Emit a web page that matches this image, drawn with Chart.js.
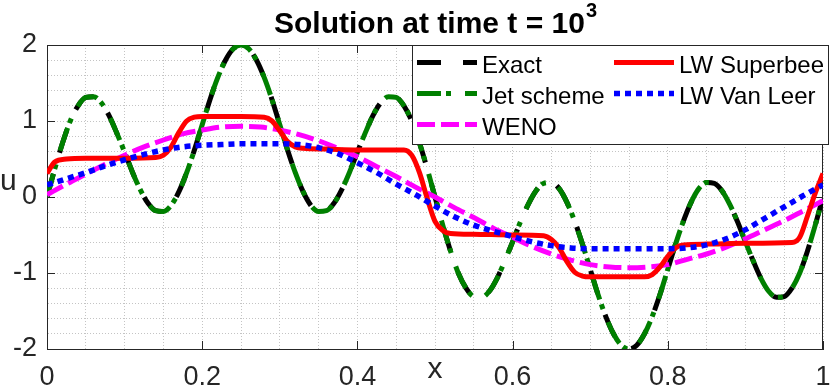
<!DOCTYPE html>
<html>
<head>
<meta charset="utf-8">
<title>Solution at time t = 10^3</title>
<script src="https://cdn.jsdelivr.net/npm/chart.js@4.4.0/dist/chart.umd.min.js"></script>
<style>
  html, body { margin: 0; padding: 0; background: #fff; }
</style>
</head>
<body>
<canvas id="chart" width="830" height="386"></canvas>
<script>
// ---- data ----
const xTickLabels = ['0', '0.2', '0.4', '0.6', '0.8', '1'];
const yTickLabels = ['-2', '-1', '0', '1', '2'];

// fine grid for the exact solution and the jet scheme
const xFine = [
  0, 0.01, 0.02, 0.03, 0.04, 0.05, 0.06, 0.07, 0.08, 0.09,
  0.1, 0.11, 0.12, 0.13, 0.14, 0.15, 0.16, 0.17, 0.18, 0.19,
  0.2, 0.21, 0.22, 0.23, 0.24, 0.25, 0.26, 0.27, 0.28, 0.29,
  0.3, 0.31, 0.32, 0.33, 0.34, 0.35, 0.36, 0.37, 0.38, 0.39,
  0.4, 0.41, 0.42, 0.43, 0.44, 0.45, 0.46, 0.47, 0.48, 0.49,
  0.5, 0.51, 0.52, 0.53, 0.54, 0.55, 0.56, 0.57, 0.58, 0.59,
  0.6, 0.61, 0.62, 0.63, 0.64, 0.65, 0.66, 0.67, 0.68, 0.69,
  0.7, 0.71, 0.72, 0.73, 0.74, 0.75, 0.76, 0.77, 0.78, 0.79,
  0.8, 0.81, 0.82, 0.83, 0.84, 0.85, 0.86, 0.87, 0.88, 0.89,
  0.9, 0.91, 0.92, 0.93, 0.94, 0.95, 0.96, 0.97, 0.98, 0.99,
  1
];
const exactU = [
  0, 0.37, 0.71, 1.00, 1.20, 1.31, 1.32, 1.24, 1.07, 0.84,
  0.59, 0.33, 0.10, -0.08, -0.18, -0.19, -0.11, 0.07, 0.32, 0.62,
  0.95, 1.28, 1.57, 1.80, 1.95, 2.00, 1.95, 1.80, 1.57, 1.28,
  0.95, 0.62, 0.32, 0.07, -0.11, -0.19, -0.18, -0.08, 0.10, 0.33,
  0.59, 0.84, 1.07, 1.24, 1.32, 1.31, 1.20, 1.00, 0.71, 0.37,
  0, -0.37, -0.71, -1.00, -1.20, -1.31, -1.32, -1.24, -1.07, -0.84,
  -0.59, -0.33, -0.10, 0.08, 0.18, 0.19, 0.11, -0.07, -0.32, -0.62,
  -0.95, -1.28, -1.57, -1.80, -1.95, -2.00, -1.95, -1.80, -1.57, -1.28,
  -0.95, -0.62, -0.32, -0.07, 0.11, 0.19, 0.18, 0.08, -0.10, -0.33,
  -0.59, -0.84, -1.07, -1.24, -1.32, -1.31, -1.20, -1.00, -0.71, -0.37,
  0
];
const jetU = [
  0, 0.37, 0.71, 1.00, 1.20, 1.31, 1.32, 1.24, 1.07, 0.84,
  0.59, 0.33, 0.10, -0.08, -0.18, -0.19, -0.11, 0.07, 0.32, 0.62,
  0.95, 1.28, 1.57, 1.80, 1.95, 2.00, 1.95, 1.80, 1.57, 1.28,
  0.95, 0.62, 0.32, 0.07, -0.11, -0.19, -0.18, -0.08, 0.10, 0.33,
  0.59, 0.84, 1.07, 1.24, 1.32, 1.31, 1.20, 1.00, 0.71, 0.37,
  0, -0.37, -0.71, -1.00, -1.20, -1.31, -1.32, -1.24, -1.07, -0.84,
  -0.59, -0.33, -0.10, 0.08, 0.18, 0.19, 0.11, -0.07, -0.32, -0.62,
  -0.95, -1.28, -1.57, -1.80, -1.95, -2.00, -1.95, -1.80, -1.57, -1.28,
  -0.95, -0.62, -0.32, -0.07, 0.11, 0.19, 0.18, 0.08, -0.10, -0.33,
  -0.59, -0.84, -1.07, -1.24, -1.32, -1.31, -1.20, -1.00, -0.71, -0.37,
  0
];

// coarser grid for the smooth schemes
const xCoarse = [
  0, 0.025, 0.05, 0.075, 0.1, 0.125, 0.15, 0.175, 0.2, 0.225,
  0.25, 0.275, 0.3, 0.325, 0.35, 0.375, 0.4, 0.425, 0.45, 0.475,
  0.5, 0.525, 0.55, 0.575, 0.6, 0.625, 0.65, 0.675, 0.7, 0.725,
  0.75, 0.775, 0.8, 0.825, 0.85, 0.875, 0.9, 0.925, 0.95, 0.975,
  1
];
const wenoU = [
  0.03, 0.17, 0.30, 0.43, 0.55, 0.66, 0.75, 0.83, 0.88, 0.92,
  0.93, 0.92, 0.88, 0.82, 0.74, 0.64, 0.53, 0.40, 0.27, 0.13,
  0.00, -0.14, -0.27, -0.41, -0.53, -0.65, -0.75, -0.83, -0.89, -0.92,
  -0.93, -0.92, -0.89, -0.82, -0.75, -0.66, -0.55, -0.43, -0.31, -0.18,
  -0.05
];
const vanLeerU = [
  0.16, 0.24, 0.32, 0.41, 0.49, 0.56, 0.62, 0.66, 0.68, 0.69,
  0.70, 0.70, 0.70, 0.69, 0.65, 0.57, 0.45, 0.32, 0.17, 0.03,
  -0.12, -0.26, -0.37, -0.45, -0.52, -0.59, -0.64, -0.67, -0.68, -0.68,
  -0.68, -0.68, -0.68, -0.67, -0.63, -0.55, -0.43, -0.28, -0.13, 0.02,
  0.16
];

// superbee has sharp steps, so it gets its own breakpoints
const xSuperbee = [
  0, 0.01, 0.025, 0.05, 0.1, 0.14, 0.15, 0.16, 0.17, 0.18,
  0.19, 0.2, 0.25, 0.28, 0.29, 0.3, 0.31, 0.32, 0.33, 0.36,
  0.4, 0.46, 0.47, 0.48, 0.49, 0.5, 0.51, 0.52, 0.55, 0.6,
  0.64, 0.65, 0.66, 0.67, 0.68, 0.69, 0.7, 0.77, 0.78, 0.79,
  0.8, 0.81, 0.82, 0.85, 0.9, 0.96, 0.97, 0.98, 0.99, 1
];
const superbeeU = [
  0.31, 0.46, 0.50, 0.51, 0.51, 0.52, 0.55, 0.66, 0.85, 1.00,
  1.05, 1.06, 1.06, 1.05, 1.00, 0.87, 0.73, 0.66, 0.64, 0.63,
  0.62, 0.62, 0.55, 0.32, -0.02, -0.32, -0.44, -0.48, -0.49, -0.50,
  -0.51, -0.56, -0.67, -0.85, -0.99, -1.04, -1.05, -1.05, -1.02, -0.92,
  -0.78, -0.67, -0.63, -0.62, -0.61, -0.60, -0.53, -0.25, 0.05, 0.31
];

// ---- styling ----
const FONT = '"Liberation Sans", Arial, Helvetica, sans-serif';
const AXIS_COLOR = '#262626';
const TICK_LEN = 8;

function toPoints(xs, ys) {
  return xs.map((x, i) => ({ x: x, y: ys[i] }));
}

function tickText(labels) {
  return function(value) {
    const hit = labels.find(t => Math.abs(parseFloat(t) - value) < 1e-6);
    return hit === undefined ? '' : hit;
  };
}

// title, axis labels, the box, inward ticks and the legend
const decorations = {
  id: 'decorations',
  beforeDatasetsDraw(chart) {
    const ctx = chart.ctx;
    const a = chart.chartArea;
    const xs = chart.scales.x;
    const ys = chart.scales.y;
    ctx.save();
    ctx.strokeStyle = AXIS_COLOR;
    ctx.lineWidth = 1;
    ctx.beginPath();
    ctx.moveTo(a.left, a.top + 0.5);
    ctx.lineTo(a.right, a.top + 0.5);
    ctx.moveTo(a.right - 0.5, a.top);
    ctx.lineTo(a.right - 0.5, a.bottom);
    xTickLabels.forEach(t => {
      const px = Math.round(xs.getPixelForValue(parseFloat(t))) + 0.5;
      ctx.moveTo(px, a.bottom);
      ctx.lineTo(px, a.bottom - TICK_LEN);
      ctx.moveTo(px, a.top);
      ctx.lineTo(px, a.top + TICK_LEN);
    });
    yTickLabels.forEach(t => {
      const py = Math.round(ys.getPixelForValue(parseFloat(t))) + 0.5;
      ctx.moveTo(a.left, py);
      ctx.lineTo(a.left + TICK_LEN, py);
      ctx.moveTo(a.right, py);
      ctx.lineTo(a.right - TICK_LEN, py);
    });
    ctx.stroke();
    ctx.restore();
  },
  afterDraw(chart) {
    const ctx = chart.ctx;
    const a = chart.chartArea;
    ctx.save();
    ctx.fillStyle = '#000';
    ctx.textAlign = 'left';
    ctx.textBaseline = 'alphabetic';

    // title with superscript
    const main = 'Solution at time t = 10';
    ctx.font = 'bold 30px ' + FONT;
    const wMain = ctx.measureText(main).width;
    ctx.font = 'bold 20px ' + FONT;
    const wSup = ctx.measureText('3').width;
    const x0 = (a.left + a.right) / 2 - (wMain + wSup) / 2;
    ctx.font = 'bold 30px ' + FONT;
    ctx.fillText(main, x0, 33);
    ctx.font = 'bold 20px ' + FONT;
    ctx.fillText('3', x0 + wMain + 1, 17);

    // axis labels
    ctx.fillStyle = AXIS_COLOR;
    ctx.font = '30px ' + FONT;
    ctx.fillText('u', 0, 190);
    ctx.textAlign = 'center';
    ctx.fillText('x', (a.left + a.right) / 2, 378);

    // legend
    const lx = a.left + 365, ly = a.top, lw = 416, lh = 99;
    ctx.fillStyle = '#fff';
    ctx.fillRect(lx, ly, lw, lh);
    ctx.strokeStyle = AXIS_COLOR;
    ctx.lineWidth = 1;
    ctx.setLineDash([]);
    ctx.strokeRect(lx + 0.5, ly + 0.5, lw, lh);

    const slots = [[0, 0], [0, 1], [0, 2], [1, 0], [1, 1]];
    chart.data.datasets.forEach((ds, i) => {
      const col = slots[i][0], row = slots[i][1];
      const sx = lx + 5 + col * 197;
      const base = ly + 28 + row * 31;
      const my = base - 10.5;
      ctx.save();
      ctx.strokeStyle = ds.borderColor;
      ctx.lineWidth = ds.borderWidth;
      ctx.setLineDash(ds.borderDash || []);
      ctx.lineCap = 'butt';
      ctx.beginPath();
      ctx.moveTo(sx, my);
      ctx.lineTo(sx + 60, my);
      ctx.stroke();
      ctx.restore();
      ctx.fillStyle = '#000';
      ctx.textAlign = 'left';
      ctx.font = '24px ' + FONT;
      ctx.fillText(ds.label, sx + 65, base);
    });
    ctx.restore();
  }
};

function lineSet(label, xs, ys, color, width, dash, order) {
  return {
    label: label,
    data: toPoints(xs, ys),
    borderColor: color,
    borderWidth: width,
    borderDash: dash,
    borderCapStyle: 'butt',
    pointRadius: 0,
    fill: false,
    cubicInterpolationMode: 'monotone',
    order: order
  };
}

function initializeChart() {
  const ctx = document.getElementById('chart').getContext('2d');
  new Chart(ctx, {
    type: 'line',
    data: {
      datasets: [
        lineSet('Exact', xFine, exactU, '#000000', 5, [24, 22], 5),
        lineSet('Jet scheme', xFine, jetU, '#008000', 5, [24, 5, 5, 14], 4),
        lineSet('WENO', xCoarse, wenoU, '#ff00ff', 5, [18, 6], 3),
        lineSet('LW Superbee', xSuperbee, superbeeU, '#ff0000', 5, [], 2),
        lineSet('LW Van Leer', xCoarse, vanLeerU, '#0000ff', 5.5, [6, 5], 1)
      ]
    },
    options: {
      responsive: false,
      animation: false,
      devicePixelRatio: 1,
      layout: { padding: { top: 45, right: 7, left: 0, bottom: 0 } },
      plugins: {
        legend: { display: false },
        title: { display: false },
        tooltip: { enabled: false }
      },
      scales: {
        x: {
          type: 'linear',
          min: 0,
          max: 1,
          afterFit: scale => {
            scale.height = 37;
            scale.paddingLeft = 0;
            scale.paddingRight = 0;
          },
          grid: { color: '#c4c4c4', lineWidth: 1, drawTicks: false },
          border: { display: true, color: AXIS_COLOR, width: 1, dash: [1, 2] },
          ticks: {
            stepSize: 0.05,
            autoSkip: false,
            maxRotation: 0,
            minRotation: 0,
            padding: 12,
            color: AXIS_COLOR,
            font: { family: FONT, size: 27 },
            callback: tickText(xTickLabels)
          }
        },
        y: {
          type: 'linear',
          min: -2,
          max: 2,
          afterFit: scale => {
            scale.width = 47;
            scale.paddingTop = 0;
            scale.paddingBottom = 0;
          },
          grid: { color: '#c4c4c4', lineWidth: 1, drawTicks: false },
          border: { display: true, color: AXIS_COLOR, width: 1, dash: [1, 2] },
          ticks: {
            stepSize: 0.2,
            autoSkip: false,
            padding: 10,
            color: AXIS_COLOR,
            font: { family: FONT, size: 27 },
            callback: tickText(yTickLabels)
          }
        }
      }
    },
    plugins: [decorations]
  });
}

document.addEventListener('DOMContentLoaded', initializeChart);
</script>
</body>
</html>
